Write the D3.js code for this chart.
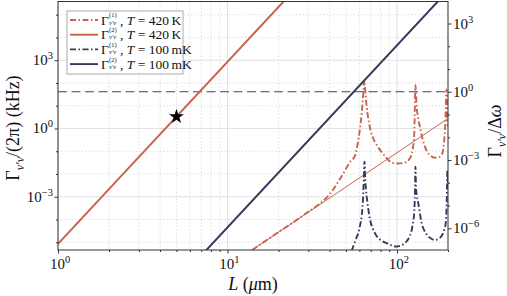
<!DOCTYPE html>
<html>
<head>
<meta charset="utf-8">
<script src="https://cdn.jsdelivr.net/npm/d3@7"></script>
<style>
  body { margin: 0; background: #fff; }
  text { font-family: "Liberation Serif", serif; fill: #111; }
</style>
</head>
<body>
<div id="chart"></div>
<script>
// ---- data (L in um, Gamma in kHz) ----
var redSolidL = [1, 25];
var redSolidG = [8.5e-6, 1.3e6];

var navySolidL = [7, 200];
var navySolidG = [2.6e-6, 1.15e6];

var thinRedL = [13, 200];
var thinRedG = [3.2e-6, 2.75];

var redDashL = [14, 20, 25, 30, 35, 40, 45, 49.3, 53, 56.5, 58.5, 60.5, 62, 63.2, 64.1, 65.2, 66.3, 69, 72.1, 77, 82.6,
                93, 101, 111.4, 119, 124, 126.5, 128.5, 130.5, 133, 136.7, 142, 149.4, 157, 167, 175, 183,
                189, 193, 196, 198, 200];
var redDashG = [4.6e-6, 2.8e-5, 8.5e-5, 2.2e-4, 5.0e-4, 1.26e-3, 4.5e-3, 1.4e-2, 3.5e-2, 6.3e-2, 0.2, 1.0, 5.0, 32, 132, 32, 8.7,
                1.26, 0.4, 0.16, 0.079, 0.032, 0.029, 0.032, 0.048, 0.126, 0.63, 79, 10, 3.2, 1.15, 0.32, 0.107,
                0.066, 0.052, 0.054, 0.065, 0.2, 2.0, 52, 4, 1.26];

var navyDashL = [54, 57, 59.9, 62.7, 63.8, 64.3, 64.9, 65.6, 67.3, 69.2, 72, 75.8, 80, 86.8, 93, 99.5, 108.8, 115,
                 119.1, 123, 126.3, 127.7, 128.5, 129.5, 131, 133.3, 139.6, 149.4, 158, 167.2, 175, 183.2, 190,
                 194.1, 196.5, 198.5, 200];
var navyDashG = [4.2e-6, 1.26e-5, 3.8e-5, 4.0e-4, 7.9e-3, 3.5e-2, 6.3e-3, 2.2e-3, 4.0e-4, 1.05e-4, 4.0e-5, 1.9e-5,
                 1.26e-5, 9.1e-6, 7.2e-6, 6.5e-6, 8.1e-6, 1.2e-5, 1.9e-5, 4.5e-5, 2.0e-4, 1.6e-3, 2.1e-2, 2.5e-3,
                 1.1e-3, 5.6e-4, 7.4e-5, 2.3e-5, 1.5e-5, 1.26e-5, 1.4e-5, 1.9e-5, 3.5e-5, 7.4e-5, 5.0e-4, 1.4e-2, 2.5e-3];

var starL = 5, starG = 3.3;
var deltaOmega = 41;   // kHz, level where Gamma / Delta omega = 1

var xMajor = [1, 10, 100];
var xMinor = [2, 3, 4, 5, 6, 7, 8, 9, 20, 30, 40, 50, 60, 70, 80, 90, 200];
var yMajorExp = [-3, 0, 3];
var yMinorExp = [-5, -4, -2, -1, 1, 2, 4, 5];
var rMajorExp = [-6, -3, 0, 3];
var rMinorExp = [-5, -4, -2, -1, 1, 2];

var legendItems = [
  { sup: "(1)", temp: "420\u2009K", color: "#c8614e", dash: true },
  { sup: "(2)", temp: "420\u2009K", color: "#c8614e", dash: false },
  { sup: "(1)", temp: "100\u2009mK", color: "#37385a", dash: true },
  { sup: "(2)", temp: "100\u2009mK", color: "#37385a", dash: false }
];

function drawChart() {
  var svgWidth = 507, svgHeight = 296;
  var plotLeft = 58, plotRight = 448, plotTop = 1.5, plotBottom = 250;
  var red = "#c8614e", navy = "#37385a";
  var dashDot = "6,2.5,1.5,2.5";

  var svg = d3.select("#chart").append("svg")
      .attr("width", svgWidth)
      .attr("height", svgHeight);

  var xScale = d3.scaleLog().domain([1, 200]).range([plotLeft, plotRight]);
  var yScale = d3.scaleLog().domain([Math.pow(10, -5.34), Math.pow(10, 5.58)]).range([plotBottom, plotTop]);
  var yRight = d3.scaleLog()
      .domain([yScale.domain()[0] / deltaOmega, yScale.domain()[1] / deltaOmega])
      .range([plotBottom, plotTop]);

  svg.append("defs").append("clipPath").attr("id", "clip")
    .append("rect").attr("x", plotLeft).attr("y", plotTop)
    .attr("width", plotRight - plotLeft).attr("height", plotBottom - plotTop);

  // grid
  var grid = svg.append("g");
  xMinor.forEach(function(v) {
    grid.append("line").attr("x1", xScale(v)).attr("x2", xScale(v)).attr("y1", plotTop).attr("y2", plotBottom)
      .attr("stroke", "#d0d0d0").attr("stroke-width", 0.8).attr("stroke-dasharray", "1.2,2.2");
  });
  yMinorExp.forEach(function(e) {
    var y = yScale(Math.pow(10, e));
    grid.append("line").attr("x1", plotLeft).attr("x2", plotRight).attr("y1", y).attr("y2", y)
      .attr("stroke", "#d0d0d0").attr("stroke-width", 0.8).attr("stroke-dasharray", "1.2,2.2");
  });
  xMajor.forEach(function(v) {
    grid.append("line").attr("x1", xScale(v)).attr("x2", xScale(v)).attr("y1", plotTop).attr("y2", plotBottom)
      .attr("stroke", "#e2e2e2").attr("stroke-width", 1);
  });
  yMajorExp.forEach(function(e) {
    var y = yScale(Math.pow(10, e));
    grid.append("line").attr("x1", plotLeft).attr("x2", plotRight).attr("y1", y).attr("y2", y)
      .attr("stroke", "#e2e2e2").attr("stroke-width", 1);
  });

  // lines
  var plot = svg.append("g").attr("clip-path", "url(#clip)");
  var line = d3.line().x(d => xScale(d[0])).y(d => yScale(d[1])).curve(d3.curveMonotoneX);

  function draw(Ls, Gs, color, width, dash) {
    plot.append("path")
      .datum(Ls.map((l, i) => [l, Gs[i]]))
      .attr("d", line)
      .attr("fill", "none")
      .attr("stroke", color)
      .attr("stroke-width", width)
      .attr("stroke-dasharray", dash || null);
  }

  // dashed reference level
  plot.append("line")
    .attr("x1", plotLeft).attr("x2", plotRight)
    .attr("y1", yScale(deltaOmega)).attr("y2", yScale(deltaOmega))
    .attr("stroke", "#444").attr("stroke-width", 1.1).attr("stroke-dasharray", "9,4.5");

  draw(thinRedL, thinRedG, red, 1, null);
  draw(redDashL, redDashG, red, 1.9, dashDot);
  draw(navyDashL, navyDashG, navy, 1.9, dashDot);
  draw(redSolidL, redSolidG, red, 2, null);
  draw(navySolidL, navySolidG, navy, 2, null);

  plot.append("path")
    .attr("d", d3.symbol().type(d3.symbolStar).size(70)())
    .attr("transform", `translate(${xScale(starL)}, ${yScale(starG)})`)
    .attr("fill", "#000");

  // frame
  svg.append("rect").attr("x", plotLeft).attr("y", plotTop)
    .attr("width", plotRight - plotLeft).attr("height", plotBottom - plotTop)
    .attr("fill", "none").attr("stroke", "#333").attr("stroke-width", 1);

  // ---- axes ----
  function powLabel(g, x, y, exp, anchor) {
    var t = g.append("text").attr("x", x).attr("y", y).attr("font-size", 15).attr("text-anchor", anchor);
    t.append("tspan").text("10");
    t.append("tspan").attr("dy", -6).attr("font-size", 10.5).text(exp < 0 ? "\u2212" + (-exp) : exp);
    return t;
  }

  function tickAxis(axis, transform) {
    svg.append("g").attr("transform", transform).call(axis)
      .call(g => g.select(".domain").remove());
  }

  tickAxis(d3.axisBottom(xScale).tickValues(xMajor).tickSize(3.5).tickFormat(""), `translate(0, ${plotBottom})`);
  tickAxis(d3.axisBottom(xScale).tickValues(xMinor).tickSize(2).tickFormat(""), `translate(0, ${plotBottom})`);
  xMajor.forEach(function(v, i) {
    powLabel(svg, xScale(v) + 2, plotBottom + 19, i, "middle");
  });

  tickAxis(d3.axisLeft(yScale).tickValues(yMajorExp.map(e => Math.pow(10, e))).tickSize(3.5).tickFormat(""),
    `translate(${plotLeft}, 0)`);
  tickAxis(d3.axisLeft(yScale).tickValues(yMinorExp.map(e => Math.pow(10, e))).tickSize(2).tickFormat(""),
    `translate(${plotLeft}, 0)`);
  yMajorExp.forEach(function(e) {
    powLabel(svg, plotLeft - 5, yScale(Math.pow(10, e)) + 5, e, "end");
  });

  tickAxis(d3.axisRight(yRight).tickValues(rMajorExp.map(e => Math.pow(10, e))).tickSize(3.5).tickFormat(""),
    `translate(${plotRight}, 0)`);
  tickAxis(d3.axisRight(yRight).tickValues(rMinorExp.map(e => Math.pow(10, e))).tickSize(2).tickFormat(""),
    `translate(${plotRight}, 0)`);
  rMajorExp.forEach(function(e) {
    powLabel(svg, plotRight + 5, yRight(Math.pow(10, e)) + 5, e, "start");
  });
  svg.selectAll(".tick line").attr("stroke", "#333");

  // axis titles
  var xt = svg.append("text").attr("x", 253).attr("y", 290).attr("text-anchor", "middle").attr("font-size", 18);
  xt.append("tspan").attr("font-style", "italic").text("L");
  xt.append("tspan").text(" (");
  xt.append("tspan").attr("font-style", "italic").text("\u03bc");
  xt.append("tspan").text("m)");

  var yt = svg.append("text").attr("transform", "translate(19, 128) rotate(-90)")
    .attr("text-anchor", "middle").attr("font-size", 18);
  yt.append("tspan").text("\u0393");
  yt.append("tspan").attr("dy", 4.5).attr("font-size", 12).attr("font-style", "italic").text("\u03bd\u2032\u03bd");
  yt.append("tspan").attr("dy", -4.5).text("/(2\u03c0)  (kHz)");

  var rt = svg.append("text").attr("transform", "translate(501, 131) rotate(-90)")
    .attr("text-anchor", "middle").attr("font-size", 18);
  rt.append("tspan").text("\u0393");
  rt.append("tspan").attr("dy", 4.5).attr("font-size", 12).attr("font-style", "italic").text("\u03bd\u2032\u03bd");
  rt.append("tspan").attr("dy", -4.5).text("/\u0394");
  rt.append("tspan").attr("font-style", "italic").text("\u03c9");

  // ---- legend ----
  var legend = svg.append("g").attr("transform", "translate(67, 11)");
  legend.append("rect").attr("width", 116).attr("height", 63)
    .attr("fill", "#fff").attr("stroke", "#aaa").attr("stroke-width", 1);
  legendItems.forEach(function(d, i) {
    var y = 9 + i * 14.7;
    legend.append("line").attr("x1", 3).attr("x2", 31).attr("y1", y).attr("y2", y)
      .attr("stroke", d.color).attr("stroke-width", 1.9)
      .attr("stroke-dasharray", d.dash ? dashDot : null);
    legend.append("text").attr("x", 34).attr("y", y + 4.5).attr("font-size", 13.5).text("\u0393");
    legend.append("text").attr("x", 42).attr("y", y - 2.6).attr("font-size", 6.5).text(d.sup);
    legend.append("text").attr("x", 42).attr("y", y + 4.7).attr("font-size", 6.5).attr("font-style", "italic")
      .text("\u03bd\u2032\u03bd");
    var t = legend.append("text").attr("x", 53).attr("y", y + 4.5).attr("font-size", 13.5);
    t.append("tspan").text(", ");
    t.append("tspan").attr("font-style", "italic").text("T");
    t.append("tspan").text(" = " + d.temp);
  });
}

drawChart();
</script>
</body>
</html>
